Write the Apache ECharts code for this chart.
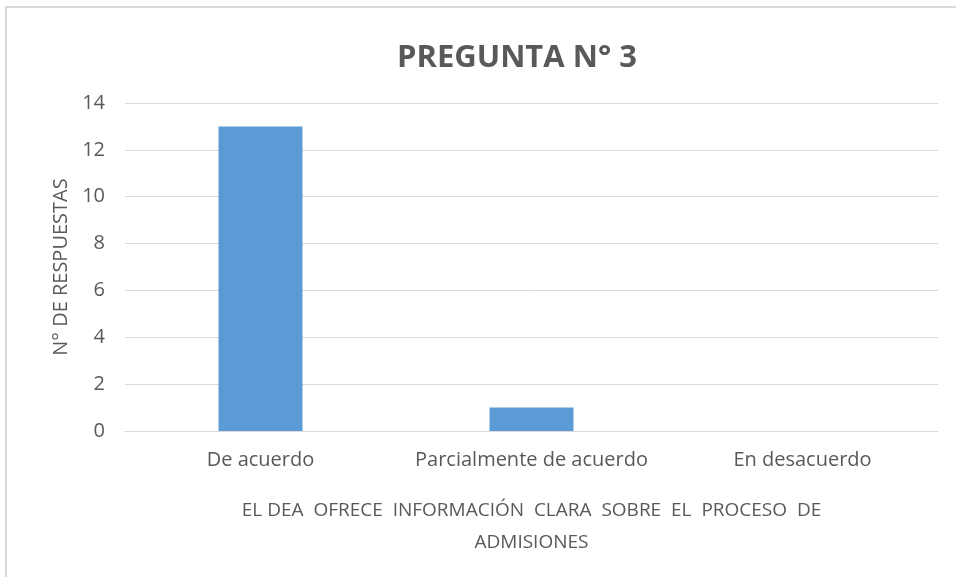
<!DOCTYPE html>
<html>
<head>
<meta charset="utf-8">
<script src="https://cdn.jsdelivr.net/npm/echarts@6/dist/echarts.min.js"></script>
<style>
html,body{margin:0;padding:0;background:#fff;}
#frame{position:absolute;left:5px;top:6px;width:960px;height:580px;border-left:2px solid #d9d9d9;border-top:2px solid #d9d9d9;}
#chart{width:956px;height:577px;}
</style>
</head>
<body>
<div id="frame"></div>
<div id="chart"></div>
<script>
// datos del grafico
var categorias = ['De acuerdo', 'Parcialmente de acuerdo', 'En desacuerdo'];
var respuestas = [13, 1, 0];
var titulo = 'PREGUNTA N° 3';
var nombreY = 'N° DE RESPUESTAS';
var nombreX = 'EL DEA  OFRECE  INFORMACIÓN  CLARA  SOBRE  EL  PROCESO  DE\nADMISIONES';

var fuente = '"Open Sans", "Noto Sans", sans-serif';
var gris = '#595959';

var myChart = echarts.init(document.getElementById('chart'));
myChart.setOption({
    animation: false,
    title: {
        text: titulo,
        left: 512,
        top: 38,
        textAlign: 'center',
        textStyle: {
            color: gris,
            fontSize: 31,
            fontWeight: 'bold',
            fontFamily: fuente
        }
    },
    grid: {
        left: 125,
        right: 18,
        top: 103,
        bottom: 146,
        containLabel: false
    },
    xAxis: {
        type: 'category',
        data: categorias,
        name: nombreX,
        nameLocation: 'middle',
        nameGap: 64,
        nameTextStyle: {
            color: gris,
            fontSize: 19,
            fontFamily: fuente,
            lineHeight: 32,
            align: 'center'
        },
        axisLine: {lineStyle: {color: '#d9d9d9', width: 1}},
        axisTick: {show: false},
        axisLabel: {
            interval: 0,
            hideOverlap: false,
            color: gris,
            fontSize: 20,
            fontFamily: fuente,
            margin: 19
        }
    },
    yAxis: {
        type: 'value',
        min: 0,
        max: 14,
        interval: 2,
        name: nombreY,
        nameLocation: 'middle',
        nameGap: 51,
        nameTextStyle: {
            color: gris,
            fontSize: 20,
            fontFamily: fuente
        },
        axisLine: {show: false},
        axisTick: {show: false},
        splitLine: {lineStyle: {color: '#d9d9d9', width: 1}},
        axisLabel: {
            color: gris,
            fontSize: 20,
            fontFamily: fuente,
            margin: 20
        }
    },
    series: [{
        name: 'Respuestas',
        type: 'bar',
        data: respuestas,
        barWidth: '31%',
        itemStyle: {color: '#5B9BD5'}
    }]
});
</script>
</body>
</html>
